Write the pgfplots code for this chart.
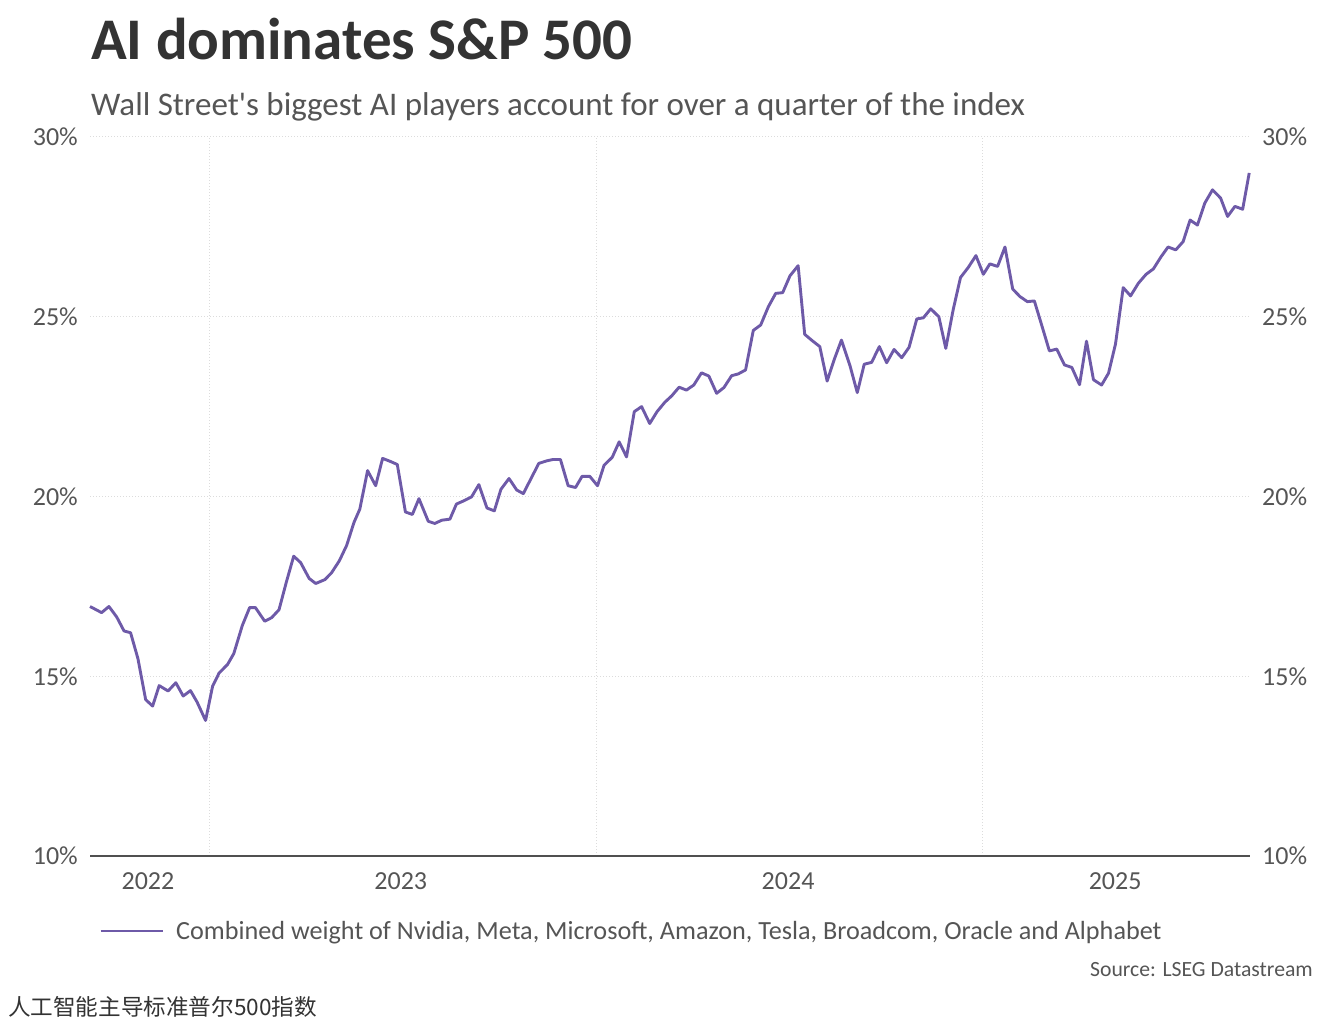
\documentclass[border=0pt]{standalone}
\usepackage{pgfplots}
\pgfplotsset{compat=1.18}
\usepackage{pgfplotstable}
\usepackage{fontspec}
\setmainfont{Carlito}
\newfontfamily\cjk{Noto Sans CJK SC}
\definecolor{lineclr}{RGB}{110,90,168}
\definecolor{txt}{RGB}{85,85,85}
\definecolor{ttl}{RGB}{51,51,51}
\definecolor{gridc}{RGB}{220,220,220}
\definecolor{axc}{RGB}{80,80,80}

\pgfplotstableread{
x y
2022.690 16.94
2022.720 16.77
2022.739 16.94
2022.759 16.65
2022.778 16.26
2022.795 16.21
2022.814 15.49
2022.834 14.35
2022.852 14.17
2022.869 14.74
2022.892 14.59
2022.912 14.82
2022.931 14.45
2022.950 14.60
2022.967 14.28
2022.989 13.77
2023.007 14.72
2023.024 15.09
2023.046 15.33
2023.062 15.63
2023.084 16.41
2023.103 16.91
2023.118 16.91
2023.142 16.53
2023.160 16.63
2023.179 16.85
2023.198 17.62
2023.217 18.34
2023.235 18.16
2023.257 17.72
2023.274 17.58
2023.298 17.69
2023.315 17.88
2023.335 18.21
2023.354 18.64
2023.373 19.28
2023.388 19.65
2023.408 20.72
2023.429 20.30
2023.447 21.06
2023.466 20.98
2023.485 20.89
2023.506 19.57
2023.524 19.50
2023.541 19.94
2023.565 19.31
2023.582 19.25
2023.600 19.34
2023.621 19.37
2023.638 19.79
2023.657 19.88
2023.677 19.99
2023.696 20.33
2023.717 19.68
2023.736 19.60
2023.753 20.20
2023.774 20.50
2023.794 20.18
2023.811 20.08
2023.831 20.50
2023.851 20.92
2023.871 20.99
2023.888 21.03
2023.907 21.03
2023.927 20.30
2023.946 20.25
2023.963 20.56
2023.983 20.56
2024.003 20.30
2024.020 20.87
2024.041 21.09
2024.059 21.52
2024.078 21.10
2024.098 22.36
2024.117 22.50
2024.138 22.03
2024.157 22.36
2024.177 22.62
2024.195 22.80
2024.214 23.04
2024.233 22.96
2024.252 23.10
2024.272 23.44
2024.291 23.35
2024.311 22.87
2024.330 23.03
2024.350 23.36
2024.367 23.41
2024.386 23.52
2024.406 24.62
2024.425 24.77
2024.445 25.28
2024.464 25.65
2024.482 25.67
2024.501 26.14
2024.522 26.42
2024.539 24.51
2024.559 24.33
2024.578 24.17
2024.597 23.21
2024.615 23.80
2024.634 24.35
2024.656 23.64
2024.675 22.89
2024.693 23.68
2024.712 23.73
2024.732 24.17
2024.751 23.72
2024.770 24.09
2024.790 23.86
2024.809 24.15
2024.829 24.94
2024.846 24.97
2024.865 25.22
2024.886 25.00
2024.904 24.12
2024.923 25.19
2024.942 26.09
2024.962 26.37
2024.982 26.70
2025.001 26.18
2025.018 26.47
2025.038 26.40
2025.057 26.94
2025.077 25.77
2025.096 25.56
2025.115 25.42
2025.133 25.44
2025.152 24.77
2025.172 24.05
2025.191 24.10
2025.211 23.66
2025.230 23.59
2025.250 23.11
2025.268 24.32
2025.286 23.25
2025.307 23.10
2025.325 23.43
2025.343 24.24
2025.363 25.81
2025.382 25.58
2025.402 25.93
2025.422 26.18
2025.441 26.33
2025.461 26.67
2025.479 26.94
2025.499 26.86
2025.518 27.09
2025.536 27.69
2025.555 27.55
2025.574 28.16
2025.594 28.53
2025.615 28.30
2025.633 27.79
2025.652 28.07
2025.672 27.99
2025.689 29.00
}\datatable

\begin{document}
\begin{tikzpicture}
\path[use as bounding box] (0pt,0pt) rectangle (1325pt,1025pt);

\begin{axis}[
  at={(90pt,169pt)}, anchor=south west,
  scale only axis, width=1160pt, height=719pt,
  xmin=0.690, xmax=3.691, ymin=10, ymax=30,
  axis line style={draw=none},
  tick style={draw=none},
  major tick length=0pt,
  xtick={0.840,1.494,2.496,3.342},
  xticklabels={2022,2023,2024,2025},
  extra x ticks={1.0,2.0,3.0},
  extra x tick labels={},
  extra x tick style={grid=major},
  ytick={10,15,20,25,30},
  yticklabels={10\%,15\%,20\%,25\%,30\%},
  ymajorgrids,
  grid style={draw=gridc, line width=1pt, dash pattern=on 1pt off 2pt},
  ticklabel style={font=\fontsize{26}{28}\selectfont, text=txt},
  xticklabel style={inner sep=0pt, anchor=north, yshift=-16pt},
  yticklabel style={inner sep=0pt, anchor=east, xshift=-12pt},
  clip=false,
  legend style={at={(0.0078,-0.1043)}, anchor=west, draw=none, fill=none,
    inner sep=0pt, font=\fontsize{26.2}{28}\selectfont, text=txt,
    nodes={inner sep=0pt}, column sep=12pt},
  legend cell align=left,
  legend image code/.code={\draw[#1] (0pt,0pt) -- (62pt,0pt);},
]
\addplot[draw=axc, line width=1.8pt, forget plot] coordinates {(0.690,10) (3.691,10)};
\addplot[draw=lineclr, line width=2.9pt, line join=round] table[x expr=\thisrow{x}-2022, y=y] {\datatable};
\addlegendentry{Combined weight of Nvidia, Meta, Microsoft, Amazon, Tesla, Broadcom, Oracle and Alphabet}
\end{axis}

\begin{axis}[
  at={(90pt,169pt)}, anchor=south west,
  scale only axis, width=1160pt, height=719pt,
  xmin=0.690, xmax=3.691, ymin=10, ymax=30,
  axis line style={draw=none},
  tick style={draw=none},
  major tick length=0pt,
  xtick=\empty,
  ytick={10,15,20,25,30},
  yticklabels={10\%,15\%,20\%,25\%,30\%},
  yticklabel pos=right,
  ticklabel style={font=\fontsize{26}{28}\selectfont, text=txt},
  yticklabel style={inner sep=0pt, anchor=west, xshift=12pt},
]
\end{axis}

\node[anchor=base west, inner sep=0pt, text=ttl] at (91pt,965pt)
  {\fontsize{59}{62}\selectfont\bfseries AI dominates S\&P 500};
\node[anchor=base west, inner sep=0pt, text=txt] at (91pt,909pt)
  {\fontsize{33}{36}\selectfont Wall Street\textquotesingle s biggest AI players account for over a quarter of the index};
\node[anchor=base east, inner sep=0pt, text=txt] at (1313pt,48pt)
  {\fontsize{21.7}{24}\selectfont Source: LSEG Datastream};
\node[anchor=base west, inner sep=0pt, text=ttl] at (8pt,9pt)
  {\cjk\fontsize{22.6}{24}\selectfont 人工智能主导标准普尔500指数};
\end{tikzpicture}
\end{document}
